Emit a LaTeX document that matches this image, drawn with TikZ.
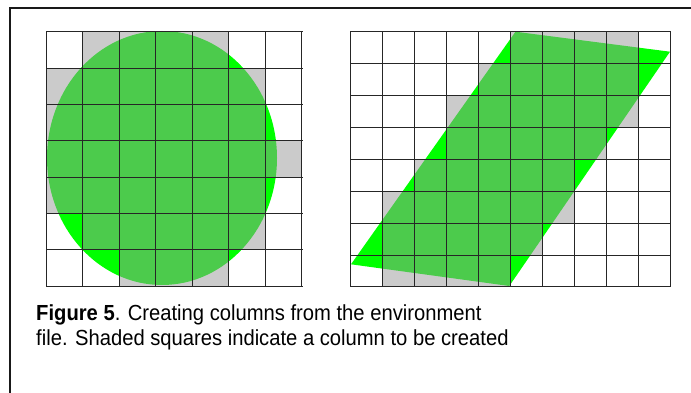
\documentclass[tikz,border=0pt]{standalone}
\usepackage{fontspec}
\setmainfont{Liberation Sans}
\definecolor{brightgreen}{RGB}{0,255,0}
\tikzset{
  gridline/.style={draw=black!85, line width=1pt, line cap=rect},
  shadecell/.style={fill=black!40, fill opacity=0.5},
  framestyle/.style={draw=black!90, line width=1.8pt},
  captext/.style={font=\fontsize{20.2}{25}\selectfont, anchor=base west, inner sep=0pt},
}
\begin{document}
\begin{tikzpicture}[x=1pt,y=-1pt]
\useasboundingbox (0,0) rectangle (691,393);
\fill[white] (0,0) rectangle (691,393);
% frame
\draw[framestyle] (10.3,394) -- (10.3,8.3) -- (692,8.3);

% left grid with ellipse
\fill[brightgreen] (162,158) ellipse [x radius=115pt, y radius=127pt];
\fill[shadecell]
  \foreach \r/\cs in {0/{1,2,3,4},1/{0,1,2,3,4,5},2/{0,1,2,3,4,5},3/{0,1,2,3,4,5,6},4/{0,1,2,3,4,5},5/{1,2,3,4,5},6/{2,3,4}}{
    \foreach \c in \cs {
      ({46+36.57*\c},{32+36.29*\r}) rectangle ++(36.57,36.29)
    }
  };
\foreach \c in {0,...,7}
  \draw[gridline] ({46+36.57*\c},32) -- ({46+36.57*\c},286);
\foreach \r in {0,...,7}
  \draw[gridline] (46,{32+36.29*\r}) -- (302,{32+36.29*\r});

% right grid with parallelogram
\fill[brightgreen] (515.5,31.7) -- (670,51.7) -- (509.3,286) -- (351,264.3) -- cycle;
\fill[shadecell]
  \foreach \r/\cs in {0/{5,6,7,8},1/{4,5,6,7,8},2/{3,4,5,6,7,8},3/{3,4,5,6,7},4/{2,3,4,5,6},5/{1,2,3,4,5,6},6/{1,2,3,4,5},7/{1,2,3,4}}{
    \foreach \c in \cs {
      ({350.3+31.97*\c},{31.7+31.95*\r}) rectangle ({350.3+31.97*(\c+1)},{min(31.7+31.95*(\r+1),286)})
    }
  };
\foreach \c in {0,...,10}
  \draw[gridline] ({350.3+31.97*\c},31.7) -- ({350.3+31.97*\c},286);
\foreach \r in {0,...,7}
  \draw[gridline] (350.3,{31.7+31.95*\r}) -- (670,{31.7+31.95*\r});
\draw[gridline] (350.3,286) -- (670,286);

% caption
\node[captext] (cap1) at (36,320) {\scalebox{1}[1.08]{\textbf{Figure 5}. Creating columns from the environment}};
\node[captext] (cap2) at (36,345) {\scalebox{1}[1.08]{file. Shaded squares indicate a column to be created}};
\end{tikzpicture}
\end{document}
